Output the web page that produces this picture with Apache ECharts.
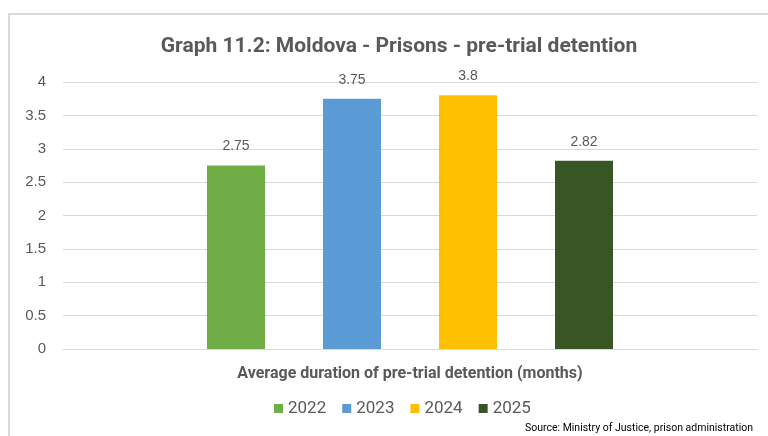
<!DOCTYPE html>
<html>
<head>
<meta charset="utf-8">
<script src="https://cdn.jsdelivr.net/npm/echarts@6/dist/echarts.min.js"></script>
<style>
html,body{margin:0;padding:0;background:#fff;}
#box{position:absolute;left:8px;top:13px;width:780px;height:440px;border:2px solid #d9d9d9;box-sizing:border-box;}
#chart{position:absolute;left:0;top:0;width:768px;height:436px;}
</style>
</head>
<body>
<div id="box"></div>
<div id="chart"></div>
<script>
// data
var categories = ['Average duration of pre-trial detention (months)'];
var years = ['2022', '2023', '2024', '2025'];
var values = [2.75, 3.75, 3.8, 2.82];
var colors = ['#70ad47', '#5b9bd5', '#ffc000', '#375623'];
var labels = ['2.75', '3.75', '3.8', '2.82'];

var series = [];
for (var i = 0; i < years.length; i++) {
    series.push({
        name: years[i],
        type: 'bar',
        data: [values[i]],
        barWidth: 58,
        barGap: '100%',
        itemStyle: {color: colors[i]},
        label: {
            show: true,
            position: 'top',
            distance: 12,
            formatter: labels[i],
            color: '#595959',
            fontSize: 14,
            fontFamily: 'Liberation Sans'
        }
    });
}

var option = {
    animation: false,
    title: {
        text: 'Graph 11.2: Moldova - Prisons - pre-trial detention',
        left: 394,
        textAlign: 'center',
        top: 31,
        textStyle: {
            color: '#595959',
            fontSize: 21,
            fontWeight: 'bold',
            fontFamily: 'Roboto, sans-serif'
        }
    },
    legend: {
        bottom: 14,
        left: 269,
        itemWidth: 9,
        itemHeight: 9,
        itemGap: 16,
        icon: 'rect',
        textStyle: {color: '#595959', fontSize: 17, fontFamily: 'Roboto'},
        data: years
    },
    grid: {
        left: 63,
        right: 11,
        top: 82,
        bottom: 87
    },
    xAxis: {
        type: 'category',
        data: categories,
        axisTick: {show: false},
        axisLine: {lineStyle: {color: '#d9d9d9', width: 1}},
        axisLabel: {
            margin: 17,
            color: '#595959',
            fontSize: 16,
            fontWeight: 'bold',
            fontFamily: 'Roboto, sans-serif'
        }
    },
    yAxis: {
        type: 'value',
        min: 0,
        max: 4,
        interval: 0.5,
        axisLine: {show: false},
        axisTick: {show: false},
        axisLabel: {
            margin: 17,
            color: '#595959',
            fontSize: 15,
            fontFamily: 'Liberation Sans'
        },
        splitLine: {lineStyle: {color: '#d9d9d9', width: 1}}
    },
    graphic: [{
        type: 'text',
        right: 15,
        bottom: 2,
        style: {
            text: 'Source: Ministry of Justice, prison administration',
            fill: '#000',
            fontSize: 10.5,
            fontFamily: 'Roboto, sans-serif'
        }
    }],
    series: series
};

var myChart = echarts.init(document.getElementById('chart'));
myChart.setOption(option);
</script>
</body>
</html>
